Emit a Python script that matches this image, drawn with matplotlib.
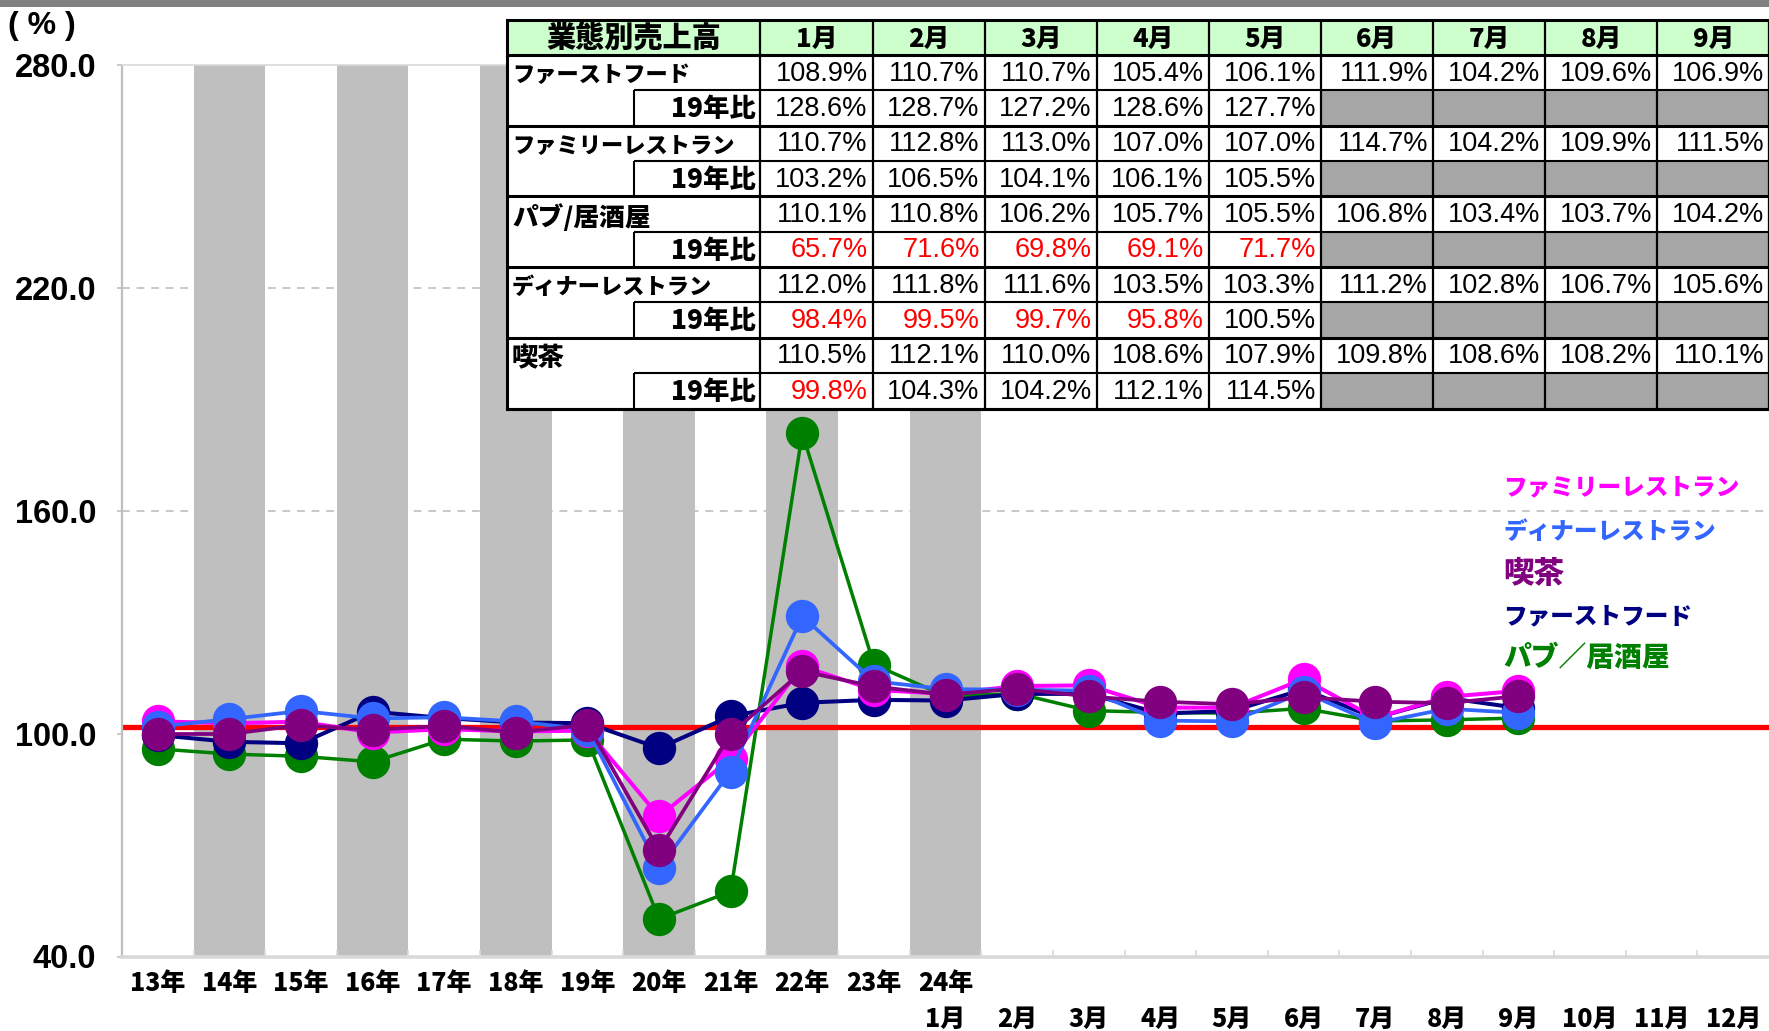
import matplotlib
matplotlib.use("Agg")
import matplotlib.pyplot as plt
from matplotlib.patches import Rectangle
from matplotlib.transforms import blended_transform_factory

W, H, DPI = 1769, 1031, 100

# ---------------- data ----------------
year_labels = ['13年', '14年', '15年', '16年', '17年', '18年', '19年', '20年',
               '21年', '22年', '23年', '24年']
month_labels = ['1月', '2月', '3月', '4月', '5月', '6月', '7月', '8月', '9月',
                '10月', '11月', '12月']
table_months = ['1月', '2月', '3月', '4月', '5月', '6月', '7月', '8月', '9月']

# annual values 2013-2023
ff_annual   = [99.6, 97.8, 97.4, 105.9, 104.2, 103.0, 102.8, 96.1, 104.7, 108.3, 109.1]
fr_annual   = [103.3, 102.8, 103.2, 100.3, 101.2, 100.6, 100.8, 77.7, 93.2, 118.1, 111.8]
pub_annual  = [95.9, 94.5, 93.9, 92.4, 98.5, 98.0, 98.3, 50.1, 57.5, 180.9, 118.6]
dr_annual   = [101.9, 103.9, 106.1, 104.1, 104.4, 103.3, 101.1, 63.8, 89.8, 131.6, 114.1]
cafe_annual = [99.9, 99.9, 102.3, 101.0, 102.1, 100.3, 102.4, 68.6, 99.9, 116.8, 112.7]

# monthly 2024 (year-on-year %)
ff_2024   = [108.9, 110.7, 110.7, 105.4, 106.1, 111.9, 104.2, 109.6, 106.9]
fr_2024   = [110.7, 112.8, 113.0, 107.0, 107.0, 114.7, 104.2, 109.9, 111.5]
pub_2024  = [110.1, 110.8, 106.2, 105.7, 105.5, 106.8, 103.4, 103.7, 104.2]
dr_2024   = [112.0, 111.8, 111.6, 103.5, 103.3, 111.2, 102.8, 106.7, 105.6]
cafe_2024 = [110.5, 112.1, 110.0, 108.6, 107.9, 109.8, 108.6, 108.2, 110.1]

# vs 2019
ff_vs19   = [128.6, 128.7, 127.2, 128.6, 127.7]
fr_vs19   = [103.2, 106.5, 104.1, 106.1, 105.5]
pub_vs19  = [65.7, 71.6, 69.8, 69.1, 71.7]
dr_vs19   = [98.4, 99.5, 99.7, 95.8, 100.5]
cafe_vs19 = [99.8, 104.3, 104.2, 112.1, 114.5]

ref_level = 101.9
y_ticks = [40, 100, 160, 220, 280]
grid_levels = [160, 220]

JP = ['Noto Sans CJK JP', 'DejaVu Sans']
NUM = ['Liberation Sans', 'DejaVu Sans']
JPW = 'heavy'

# series: (table name, legend name, annual, monthly, vs19, colour, lw, zorder)
series = {
    'ff':   ('ファーストフード', 'ファーストフード', ff_annual, ff_2024, ff_vs19, '#000080', 2.9, 4),
    'fr':   ('ファミリーレストラン', 'ファミリーレストラン', fr_annual, fr_2024, fr_vs19, '#ff00ff', 2.9, 5),
    'pub':  ('パブ/居酒屋', 'パブ／居酒屋', pub_annual, pub_2024, pub_vs19, '#008000', 2.5, 3),
    'dr':   ('ディナーレストラン', 'ディナーレストラン', dr_annual, dr_2024, dr_vs19, '#3366ff', 2.7, 6),
    'cafe': ('喫茶', '喫茶', cafe_annual, cafe_2024, cafe_vs19, '#800080', 2.7, 7),
}
# text sizes (kanji names rendered larger, as in the original narrow-kana font)
table_label_size = {'ff': 16, 'fr': 16, 'pub': 18.5, 'dr': 16, 'cafe': 19}
legend_size = {'ff': 17, 'fr': 17, 'pub': 20, 'dr': 17, 'cafe': 22}
table_order = ['ff', 'fr', 'pub', 'dr', 'cafe']
legend_order = ['fr', 'dr', 'cafe', 'ff', 'pub']

# ---------------- figure ----------------
fig = plt.figure(figsize=(W / DPI, H / DPI), dpi=DPI)
fig.patch.set_facecolor('white')

ax_l, ax_r, ax_t, ax_b = 122, 1769, 65, 956.5
ax = fig.add_axes([ax_l / W, 1 - ax_b / H, (ax_r - ax_l) / W, (ax_b - ax_t) / H])
n_annual = len(ff_annual)
n_cat = n_annual + len(month_labels)
ax.set_xlim(-0.5, n_cat - 0.5)
ax.set_ylim(y_ticks[0], y_ticks[-1])

# alternating shaded year columns
for i in range(1, len(year_labels), 2):
    ax.axvspan(i - 0.5, i + 0.5, color='#bfbfbf', lw=0, zorder=1)

for g in grid_levels:
    ax.axhline(g, color='#c8c8c8', lw=1.4, ls=(0, (4, 3.5)), zorder=0.5)

ax.axhline(ref_level, color='#ff0000', lw=3.8, zorder=2)

x_all = list(range(n_annual)) + [n_annual + i for i in range(len(ff_2024))]
for key in ['pub', 'ff', 'fr', 'dr', 'cafe']:
    tname, lname, ann, mon, v19, col, lw, z = series[key]
    ax.plot(x_all, ann + mon, color=col, lw=lw, marker='o', ms=24,
            mfc=col, mec=col, mew=0, zorder=z, clip_on=False)

# axes styling
ax.spines['right'].set_visible(False)
ax.spines['left'].set_color('#bfbfbf')
ax.spines['left'].set_linewidth(1.6)
ax.spines['bottom'].set_color('#d9d9d9')
ax.spines['bottom'].set_linewidth(2.6)
ax.spines['top'].set_color('#d9d9d9')
ax.spines['top'].set_linewidth(1.2)

ax.set_yticks(y_ticks)
ax.set_yticklabels([f"{v:.1f}" for v in y_ticks], fontfamily=NUM,
                   fontweight='bold', fontsize=23.5)
ax.tick_params(axis='y', direction='out', length=3.6, width=1.2,
               color='#bfbfbf', pad=15)

ax.set_xticks([])
ax.set_xticks([i + 0.5 for i in range(n_cat - 1)], minor=True)
ax.tick_params(axis='x', which='minor', direction='in', length=5,
               width=1.2, color='#d9d9d9')

tr = blended_transform_factory(ax.transData, ax.transAxes)
row1 = (ax_b - 983) / (ax_b - ax_t)
row2 = (ax_b - 1019) / (ax_b - ax_t)
for i, lab in enumerate(year_labels):
    ax.text(i, row1, lab, transform=tr, ha='center', va='center',
            fontsize=18, fontweight=JPW, family=JP, clip_on=False)
for j, lab in enumerate(month_labels):
    ax.text(n_annual + j, row2, lab, transform=tr, ha='center', va='center',
            fontsize=18, fontweight=JPW, family=JP, clip_on=False)

# ---------------- overlay (pixel coords) ----------------
tax = fig.add_axes([0, 0, 1, 1], zorder=10)
tax.set_xlim(0, W)
tax.set_ylim(H, 0)
tax.axis('off')

tax.add_patch(Rectangle((0, 0), W, 7, fc='#808080', ec='none'))
tax.text(8, 26, '( % )', fontsize=23, fontweight='bold', family=NUM,
         ha='left', va='center')

# legend texts
leg_y = [487, 532, 574, 616, 658]
for key, yy in zip(legend_order, leg_y):
    tname, lname, ann, mon, v19, col, lw, z = series[key]
    tax.text(1503, yy, lname, color=col, fontsize=legend_size[key],
             fontweight=JPW, family=JP, ha='left', va='center')

# table
T_left, T_top = 507, 20
lab_w = 253.4
sub_x = 634
col_w = 112.1
hdr_h = 35
row_h = 35.35
n_cols = len(table_months)
col_x = [T_left + lab_w + j * col_w for j in range(n_cols + 1)]
T_right = col_x[-1]
n_rows = 2 * len(table_order)
T_bottom = T_top + hdr_h + n_rows * row_h

tax.add_patch(Rectangle((T_left, T_top), T_right - T_left, T_bottom - T_top,
                        fc='white', ec='none'))
tax.add_patch(Rectangle((T_left, T_top), T_right - T_left, hdr_h,
                        fc='#ccffcc', ec='none'))

tax.text((T_left + col_x[0]) / 2, T_top + hdr_h / 2 + 1.5, '業態別売上高',
         fontsize=21, fontweight=JPW, family=JP, ha='center', va='center')
for j, m in enumerate(table_months):
    tax.text(col_x[j] + col_w / 2, T_top + hdr_h / 2 + 1.5, m, fontsize=18.5,
             fontweight=JPW, family=JP, ha='center', va='center')

for r, key in enumerate(table_order):
    tname, lname, ann, mon, v19, col, lw, z = series[key]
    y0 = T_top + hdr_h + 2 * r * row_h
    yc1 = y0 + row_h / 2
    yc2 = y0 + 1.5 * row_h
    tax.text(T_left + 5, yc1 + 3, tname, fontsize=table_label_size[key],
             fontweight=JPW, family=JP, ha='left', va='center')
    tax.text(col_x[0] - 5, yc2 + 1, '19年比', fontsize=19, fontweight=JPW,
             family=JP, ha='right', va='center')
    for j in range(n_cols):
        if j < len(mon):
            tax.text(col_x[j + 1] - 5, yc1 + 1, f"{mon[j]:.1f}%", fontsize=19.5,
                     family=NUM, ha='right', va='center', color='black')
        if j < len(v19):
            c = '#ff0000' if v19[j] < 100 else 'black'
            tax.text(col_x[j + 1] - 5, yc2 + 1, f"{v19[j]:.1f}%", fontsize=19.5,
                     family=NUM, ha='right', va='center', color=c)
        else:
            tax.add_patch(Rectangle((col_x[j], y0 + row_h), col_w, row_h,
                                    fc='#a6a6a6', ec='none'))
    tax.plot([sub_x, T_right], [y0 + row_h, y0 + row_h], color='black', lw=1.5,
             solid_capstyle='butt')
    tax.plot([sub_x, sub_x], [y0 + row_h, y0 + 2 * row_h], color='black', lw=1.5,
             solid_capstyle='butt')
    tax.plot([T_left, T_right], [y0 + 2 * row_h, y0 + 2 * row_h], color='black',
             lw=2.2, solid_capstyle='butt')

tax.plot([T_left, T_right], [T_top + hdr_h, T_top + hdr_h], color='black', lw=2.2)
for x in col_x:
    tax.plot([x, x], [T_top, T_bottom], color='black', lw=1.6, solid_capstyle='butt')
tax.add_patch(Rectangle((T_left, T_top), T_right - T_left, T_bottom - T_top,
                        fc='none', ec='black', lw=2.2))

fig.savefig('out.png', dpi=DPI)
